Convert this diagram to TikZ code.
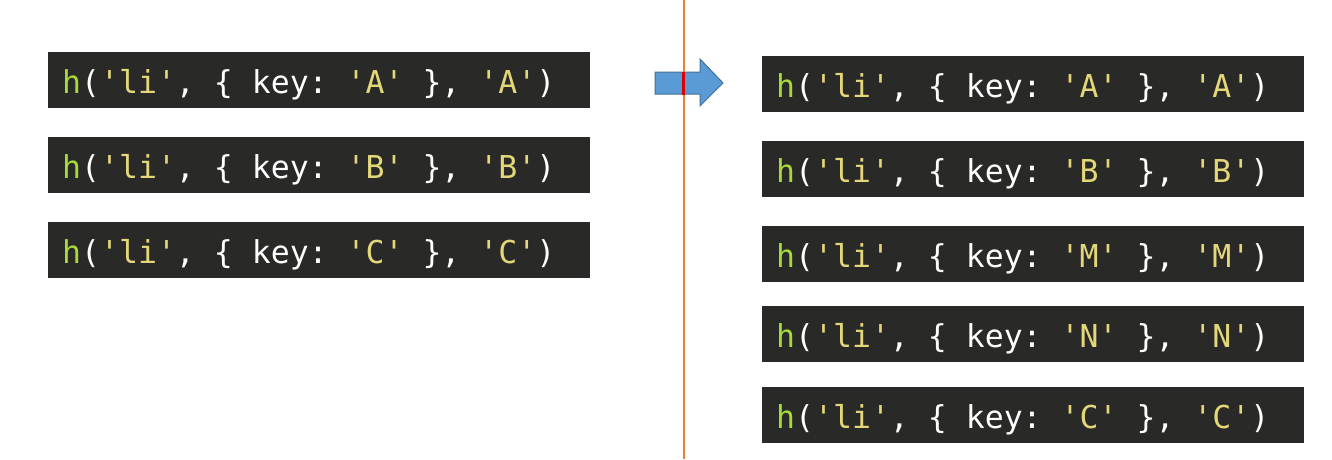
\documentclass[tikz,border=0pt]{standalone}
\usepackage{fontspec}
\setmonofont{DejaVu Sans Mono}
\definecolor{codebg}{HTML}{292927}
\definecolor{codegreen}{HTML}{A6D93A}
\definecolor{codeyellow}{HTML}{E3D77A}
\definecolor{arrowfill}{HTML}{5B9BD5}
\definecolor{arrowdraw}{HTML}{41719C}
\definecolor{lineorange}{HTML}{ED7D31}
\newcommand{\csp}{\phantom{x}}
\newcommand{\hcall}[1]{{\color{codegreen}h}({\color{codeyellow}'li'},\csp\{\csp key:\csp{\color{codeyellow}'#1'}\csp\},\csp{\color{codeyellow}'#1'})}
\tikzset{
  codebox/.style={anchor=north west, fill=codebg, text=white, minimum width=542pt, minimum height=56pt,
    text width=514pt, inner xsep=14pt, inner ysep=0pt, align=left,
    text height=41pt, text depth=15pt,
    font=\ttfamily\fontsize{31.5}{31.5}\selectfont},
}
\begin{document}
\begin{tikzpicture}[x=1pt,y=-1pt]
\useasboundingbox (0,0) rectangle (1332,459);
\fill[white] (0,0) rectangle (1332,459);
% left
\node[codebox] (la) at (48,52) {\hcall{A}};
\node[codebox] (lb) at (48,137) {\hcall{B}};
\node[codebox] (lc) at (48,222) {\hcall{C}};
% right
\node[codebox] (ra) at (762,56) {\hcall{A}};
\node[codebox] (rb) at (762,141) {\hcall{B}};
\node[codebox] (rm) at (762,226) {\hcall{M}};
\node[codebox] (rn) at (762,306) {\hcall{N}};
\node[codebox] (rc) at (762,387) {\hcall{C}};
% arrow
\draw[fill=arrowfill, draw=arrowdraw, line width=1pt]
  (655,72) -- (700,72) -- (700,59) -- (723,83) -- (700,106) -- (700,94) -- (655,94) -- cycle;
% divider
\coordinate (top) at (684,0);
\coordinate (bot) at (684,459);
\draw[lineorange, line width=2pt] (top) -- (bot);
\coordinate (mt) at (683,72);
\coordinate (mb) at (683,95);
\draw[red!85!black, line width=3pt] (mt) -- (mb);
\end{tikzpicture}
\end{document}
